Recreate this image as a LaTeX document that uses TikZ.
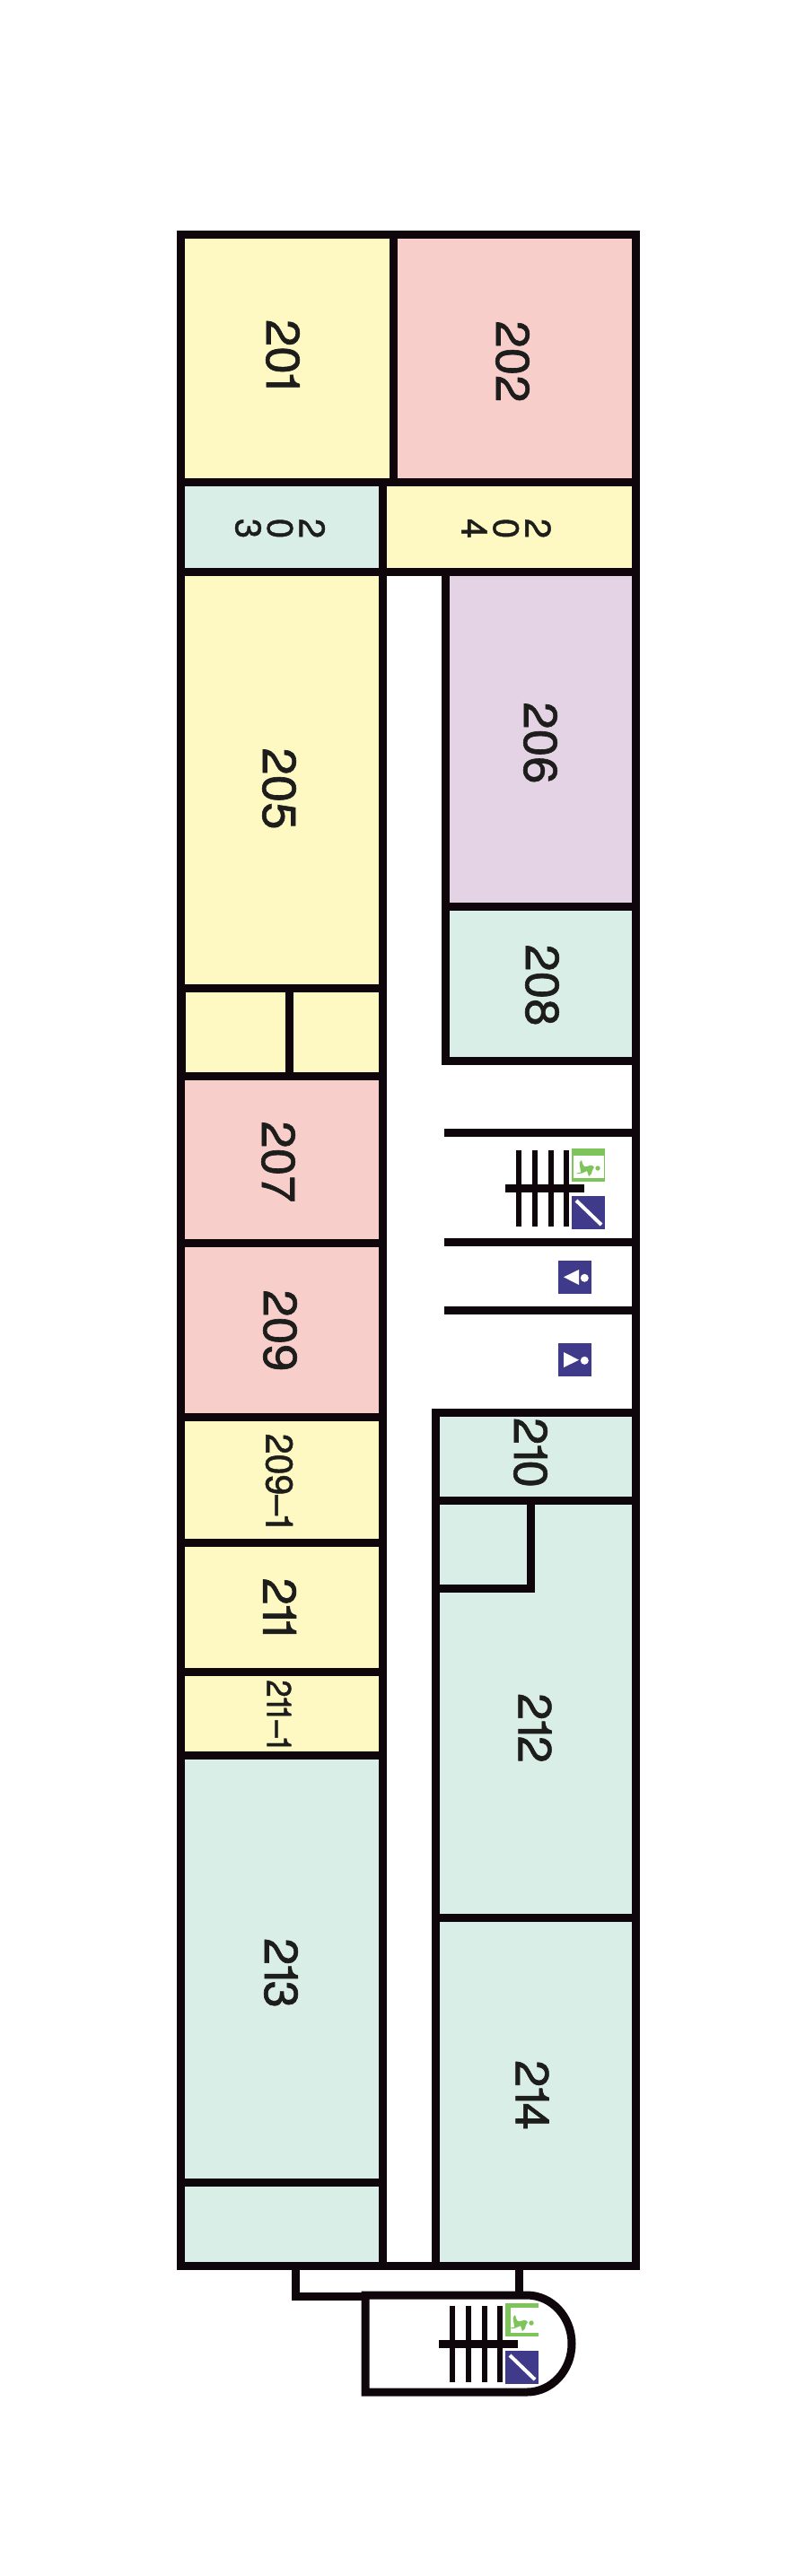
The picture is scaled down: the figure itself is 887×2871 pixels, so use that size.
\documentclass[tikz,border=0pt]{standalone}
\usepackage{fontspec}
\setmainfont{TeX Gyre Heros}[RawFeature={embolden=1.2}]
\definecolor{ry}{HTML}{FEF8C2}
\definecolor{rp}{HTML}{F8CECA}
\definecolor{rm}{HTML}{DAEEE8}
\definecolor{rv}{HTML}{E4D2E5}
\definecolor{wl}{HTML}{0E060A}
\definecolor{tx}{HTML}{1D1D1B}
\definecolor{ib}{HTML}{3F3A8A}
\definecolor{ig}{HTML}{7DC45A}
\newcommand{\nar}{\kern-.08em 1\kern-.16em}
\tikzset{
  x=1pt,y=-1pt,
  wall/.style={draw=wl,line width=9pt,line cap=rect,miter limit=10},
  stairv/.style={draw=wl,line width=6.2pt},
  stairh/.style={draw=wl,line width=9pt},
  lab/.style={rotate=-90,xscale=1.05,inner sep=0pt,text=tx,font=\fontsize{52}{52}\selectfont},
  labm/.style={rotate=-90,xscale=.98,inner sep=0pt,text=tx,font=\fontsize{42}{42}\selectfont},
  labn/.style={rotate=-90,xscale=.92,inner sep=0pt,text=tx,font=\fontsize{38}{38}\selectfont},
  labs/.style={rotate=-90,inner sep=0pt,text=tx,align=center,font=\fontsize{40}{35.5}\selectfont},
  blob/.pic={
    \fill[ig] (5,28) .. controls (8,26) and (10,28) .. (10,27) .. controls (10,22) and (8,18) .. (9,15)
      -- (11,13) .. controls (12,16) and (12,19) .. (14,20) .. controls (17,21) and (20,18) .. (23,19)
      -- (25,21) .. controls (23,24) and (22,26) .. (22,28) -- (19,31) -- (17,25)
      .. controls (13,27) and (9,29) .. (5,28) -- cycle;
    \fill[ig] (29,22) circle[radius=2.7pt];
  },
  slash/.pic={
    \fill[ib] (0,0) rectangle (37,37);
    \draw[white,line width=4pt] (5,5) -- (33,32);
  },
  signl/.pic={
    \fill[ib] (0,0) rectangle (37,37);
    \fill[white] (6,18.3) -- (23,10) -- (23,27) -- cycle;
    \fill[white] (29.3,19.3) circle[radius=4.5pt];
  },
  signr/.pic={
    \fill[ib] (0,0) rectangle (37,37);
    \fill[white] (6,10) -- (23,18.7) -- (6,27) -- cycle;
    \fill[white] (29.3,19.3) circle[radius=4.5pt];
  }
}
\begin{document}
\begin{tikzpicture}
\useasboundingbox (0,0) rectangle (887,2871);
\fill[white] (0,0) rectangle (887,2871);
% room fills
\fill[ry] (201,262) rectangle (438,537.5);
\fill[rp] (438,262) rectangle (708,537.5);
\fill[rm] (201,537.5) rectangle (426.5,637.5);
\fill[ry] (426.5,537.5) rectangle (708,637.5);
\fill[ry] (201,637.5) rectangle (426.5,1199);
\fill[rp] (201,1199) rectangle (426.5,1579.5);
\fill[ry] (201,1579.5) rectangle (426.5,1956.5);
\fill[rm] (201,1956.5) rectangle (426.5,2525.5);
\fill[rv] (496.5,637.5) rectangle (708,1010.5);
\fill[rm] (496.5,1010.5) rectangle (708,1182.5);
\fill[rm] (485,1574) rectangle (708,2525.5);
% walls
\draw[wall] (201,262) -- (708,262);
\draw[wall] (201,262) -- (201,2525);
\draw[wall] (708,262) -- (708,2525.5);
\draw[wall] (201,2525) -- (708,2525);
\draw[wall] (438,262) -- (438,537.5);
\draw[wall] (201,537.5) -- (708,537.5);
\draw[wall] (201,637.5) -- (708,637.5);
\draw[wall] (426.5,537.5) -- (426.5,2525);
\draw[wall] (201,1101) -- (426.5,1101);
\draw[wall] (201,1199) -- (426.5,1199);
\draw[draw=wl,line width=2pt] (206,1101) -- (206,1199);
\draw[wall,line cap=butt] (322.5,1101) -- (322.5,1199);
\foreach \yy in {1385.5,1579.5,1719.5,1863.5,1956.5,2432.5}
  \draw[wall] (201,\yy) -- (426.5,\yy);
\draw[wall] (496.5,637.5) -- (496.5,1182.5);
\draw[wall] (496.5,1010.5) -- (708,1010.5);
\draw[wall] (496.5,1182.5) -- (708,1182.5);
\foreach \yy in {1262.5,1384.5,1460.5}
  \draw[wall] (499.5,\yy) -- (708,\yy);
\draw[wall] (485,1574) -- (708,1574);
\draw[wall] (485,1574) -- (485,2525);
\draw[wall] (485,1672.5) -- (708,1672.5);
\draw[wall] (591,1672.5) -- (591,1770);
\draw[wall] (485,1770) -- (591,1770);
\draw[wall] (485,2137.5) -- (708,2137.5);
% annex
\draw[wall,line cap=butt] (329,2525) -- (329,2559) -- (407,2559);
\draw[wall,line cap=butt] (578,2525) -- (578,2558);
\draw[wall,line cap=butt] (587,2558) -- (407,2558) -- (407,2666) -- (587,2666)
  arc[start angle=-90,end angle=90,x radius=50pt,y radius=54pt];
% stairs 1
\foreach \xx in {578,596,614,631}
  \draw[stairv] (\xx,1282) -- (\xx,1367);
\draw[stairh] (563,1324.5) -- (651,1324.5);
% stairs 2
\foreach \xx in {504,522,540,557}
  \draw[stairv] (\xx,2570) -- (\xx,2655);
\draw[stairh] (489,2612.5) -- (577,2612.5);
% icons
\fill[ig] (637,1280) rectangle (674,1317);
\fill[white] (639,1288) rectangle (673,1313);
\pic at (637,1280) {blob};
\pic at (637,1333) {slash};
\pic at (622,1405) {signl};
\pic at (622,1497) {signr};
\fill[ig] (563,2567) rectangle (600,2604);
\fill[white] (569,2571.5) rectangle (600,2600);
\pic at (563,2567) {blob};
\pic at (563,2620) {slash};
% labels
\node[lab] (r201) at (315,395) {20\nar};
\node[lab] (r202) at (571,403) {202};
\node[labs] (r203) at (312,589) {2\\0\\3};
\node[labs] (r204) at (564,589) {2\\0\\4};
\node[lab] (r205) at (311,879) {205};
\node[lab] (r206) at (602,828) {206};
\node[lab] (r207) at (310,1295) {207};
\node[lab] (r208) at (604,1098) {208};
\node[lab] (r209) at (312,1483) {209};
\node[labm] (r2091) at (311,1650) {209–\nar};
\node[lab] (r210) at (591,1619) {2\nar 0};
\node[lab] (r211) at (311.5,1791) {2\nar\nar};
\node[labn] (r2111) at (311,1910) {2\nar\nar\kern.1em–\nar};
\node[lab] (r212) at (596,1926) {2\nar 2};
\node[lab] (r213) at (313,2199) {2\nar 3};
\node[lab] (r214) at (593,2335) {2\nar 4};
\end{tikzpicture}
\end{document}
